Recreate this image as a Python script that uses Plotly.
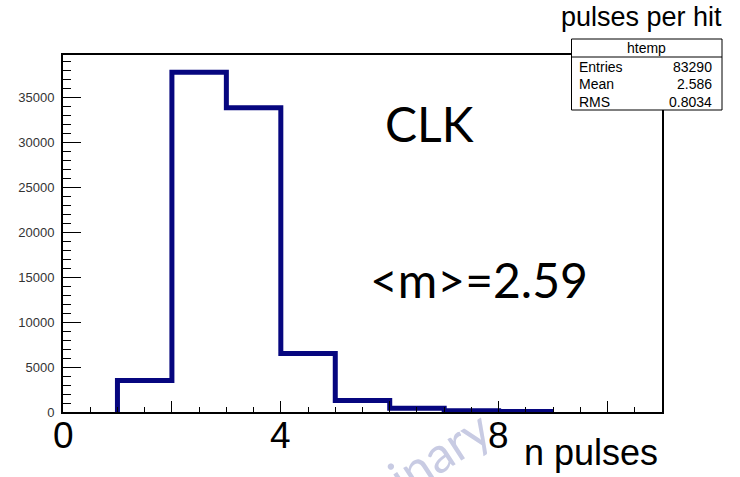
import numpy as np
import plotly.graph_objects as go

# ---- data ----
bin_low_edges = [1, 2, 3, 4, 5, 6, 7, 8]
bin_counts = [3500, 37790, 33840, 6500, 1290, 420, 150, 60]
y_tick_vals = [0, 5000, 10000, 15000, 20000, 25000, 30000, 35000]
y_tick_text = ["0", "5000", "10000", "15000", "20000", "25000", "30000", "35000"]
x_big_labels = [0, 4, 8]
stats_rows = [("Entries", "83290"), ("Mean", "2.586"), ("RMS", "0.8034")]

W, H = 740, 477
L, R, T, B = 63, 662, 55, 412

def px(x):
    return (x - L) / (R - L)

def py(y):
    return (B - y) / (B - T)

edges = np.array(bin_low_edges, dtype=float)
counts = np.array(bin_counts, dtype=float)
xs = np.concatenate([[edges[0]], edges, [edges[-1] + 1]])
ys = np.concatenate([[0], counts, [counts[-1]]])

fig = go.Figure()
fig.add_trace(go.Scatter(x=xs, y=ys, mode="lines", line=dict(color="#06067f", width=5, shape="hv"),
                         hoverinfo="skip", showlegend=False))

arial = "Liberation Sans, Arial, sans-serif"
calib = "Lato, sans-serif"

fig.update_layout(
    width=W, height=H,
    margin=dict(l=L, r=W - R, t=T, b=H - B, pad=0),
    paper_bgcolor="white", plot_bgcolor="white",
    showlegend=False,
    xaxis=dict(range=[0, 11], showline=True, linecolor="black", linewidth=2, mirror=True,
               ticks="inside", tickvals=[0, 2, 4, 6, 8, 10], ticklen=11, tickwidth=1, tickcolor="black",
               showticklabels=False, showgrid=False, zeroline=False,
               minor=dict(dtick=0.5, ticklen=5, tickwidth=1, ticks="inside", tickcolor="black", showgrid=False)),
    yaxis=dict(range=[0, 39700], showline=True, linecolor="black", linewidth=2, mirror=True,
               ticks="inside", tickvals=y_tick_vals, ticktext=y_tick_text, ticklen=18, tickwidth=1,
               tickcolor="black", tickfont=dict(family=arial, size=13, color="#333333"),
               showgrid=False, zeroline=False, ticklabelstandoff=4,
               minor=dict(dtick=1000, ticklen=8, tickwidth=1, ticks="inside", tickcolor="black", showgrid=False)),
)

# watermark (drawn first so other texts sit on top)
fig.add_annotation(xref="paper", yref="paper", x=px(381), y=py(490), text="Preliminary", showarrow=False,
                   xanchor="center", yanchor="middle", textangle=-33,
                   font=dict(family=calib, size=50, color="#c8cbe3"))

# stats box
bx0, bx1, by0, by1, bsep = 571.5, 722, 39, 110, 57
fig.add_shape(type="rect", xref="paper", yref="paper", x0=px(bx0), x1=px(bx1), y0=py(by1), y1=py(by0),
              line=dict(color="black", width=1), fillcolor="white", layer="above")
fig.add_shape(type="line", xref="paper", yref="paper", x0=px(bx0), x1=px(bx1), y0=py(bsep), y1=py(bsep),
              line=dict(color="black", width=1), layer="above")
fig.add_annotation(xref="paper", yref="paper", x=px((bx0 + bx1) / 2), y=py(48), text="htemp",
                   showarrow=False, xanchor="center", yanchor="middle",
                   font=dict(family=arial, size=14, color="black"))
for i, (k, v) in enumerate(stats_rows):
    yy = 66.5 + i * 17.5
    fig.add_annotation(xref="paper", yref="paper", x=px(577), y=py(yy), text=k, showarrow=False,
                       xanchor="left", yanchor="middle", font=dict(family=arial, size=14, color="black"))
    fig.add_annotation(xref="paper", yref="paper", x=px(714), y=py(yy), text=v, showarrow=False,
                       xanchor="right", yanchor="middle", font=dict(family=arial, size=14, color="black"))

# title
fig.add_annotation(xref="paper", yref="paper", x=px(641), y=py(17), text="pulses per hit", showarrow=False,
                   xanchor="center", yanchor="middle", font=dict(family=arial, size=27, color="black"))

# slide texts
fig.add_annotation(xref="paper", yref="paper", x=px(429), y=py(124), text="CLK", showarrow=False,
                   xanchor="center", yanchor="middle", font=dict(family=calib, size=48, color="black"))
fig.add_annotation(xref="paper", yref="paper", x=px(479), y=py(279), text="&lt;m&gt;=2.59", showarrow=False,
                   xanchor="center", yanchor="middle", font=dict(family=calib, size=48, color="black"))
for v in x_big_labels:
    fig.add_annotation(xref="x", yref="paper", x=v, y=py(435), text=str(v), showarrow=False,
                       xanchor="center", yanchor="middle", font=dict(family=arial, size=37, color="black"))
fig.add_annotation(xref="paper", yref="paper", x=px(660), y=py(452), text="n pulses", showarrow=False,
                   xanchor="right", yanchor="middle", font=dict(family=arial, size=36, color="black"))

fig.write_html("out.html")
